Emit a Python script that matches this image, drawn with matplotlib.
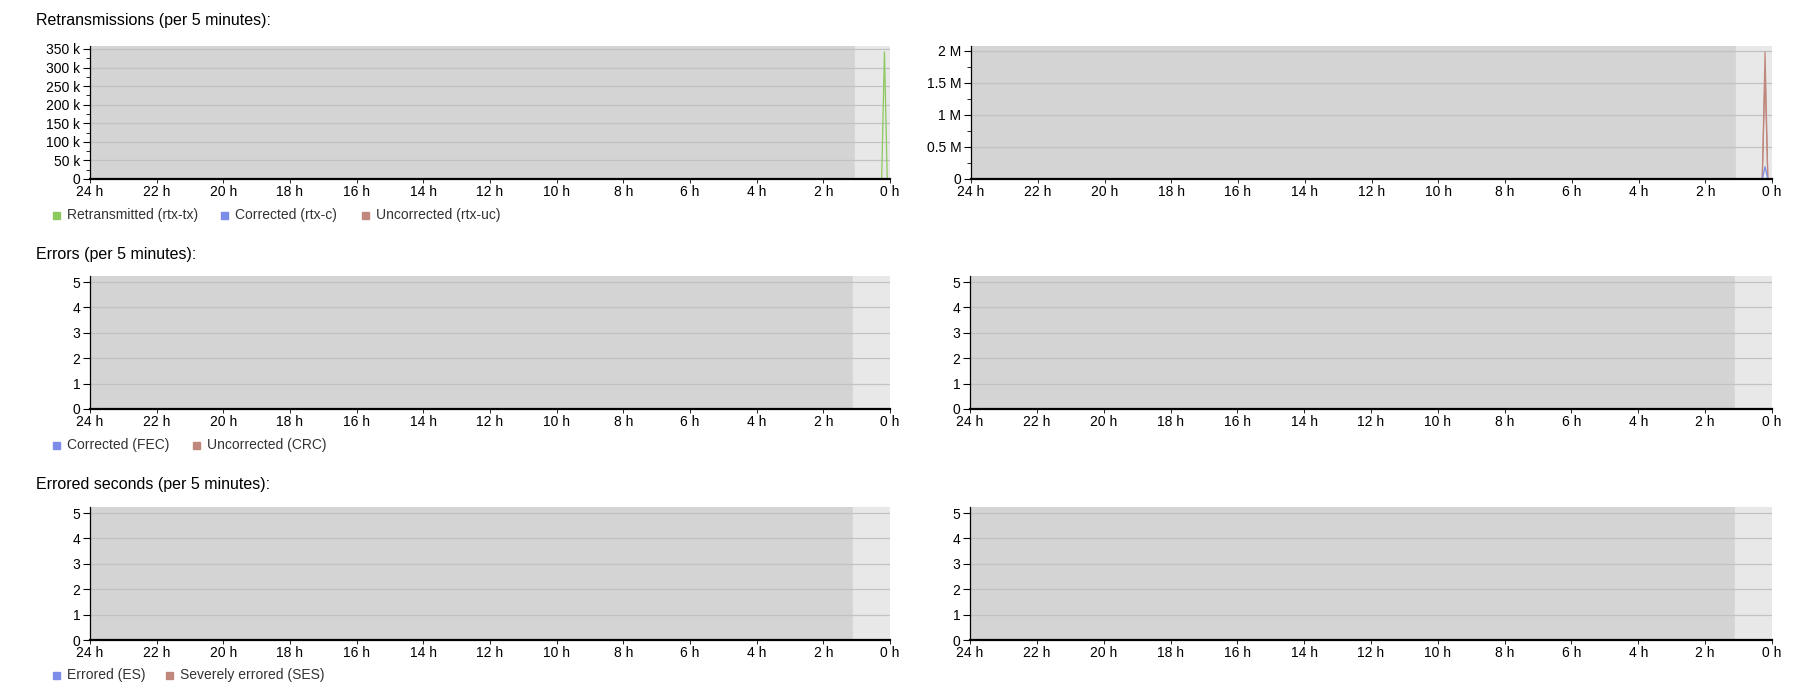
import matplotlib.pyplot as plt
from matplotlib.patches import Rectangle
from matplotlib.ticker import FuncFormatter, MultipleLocator

plt.rcParams['font.family'] = ['Liberation Sans', 'DejaVu Sans']

# hours ago of the last samples (5 minute steps)
hours_ago = [0.3333, 0.25, 0.1667, 0.0833, 0.0]
hours_ago_r = [0.375, 0.2917, 0.2083, 0.125, 0.0417]

# retransmissions, left modem side
rtx_tx_left = [0, 0, 342000, 0, 0]
# retransmissions, right side
rtx_c_right = [0, 0, 190000, 0, 0]
rtx_uc_right = [0, 0, 1980000, 0, 0]
rtx_uc_right_b = [0, 0, 1650000, 0, 0]

# errors / errored seconds are all zero
zeros = [0, 0, 0, 0, 0]

x_ticks = [24, 22, 20, 18, 16, 14, 12, 10, 8, 6, 4, 2, 0]

green = '#8dc95e'
blue = '#7b8de8'
brown = '#c0877d'
dark_bg = '#d4d4d4'
light_bg = '#e8e8e8'
grid_col = '#c2c2c2'

fig = plt.figure(figsize=(18.12, 6.99), dpi=100)
W, H = 1812, 699


def make_ax(left, top, right, bottom, ymax, major, minor, fmt, light_from):
    ax = fig.add_axes([left / W, 1 - bottom / H, (right - left) / W, (bottom - top) / H])
    ax.set_facecolor(dark_bg)
    ax.axvspan(light_from, 0, color=light_bg, zorder=0)
    ax.set_xlim(24, 0)
    ax.set_ylim(0, ymax)
    ax.set_xticks(x_ticks)
    ax.set_xticklabels([f'{h} h' for h in x_ticks])
    ax.yaxis.set_major_locator(MultipleLocator(major))
    if minor:
        ax.yaxis.set_minor_locator(MultipleLocator(minor))
    ax.yaxis.set_major_formatter(FuncFormatter(fmt))
    ax.grid(axis='y', color=grid_col, lw=0.9)
    ax.set_axisbelow(True)
    for s in ['top', 'right']:
        ax.spines[s].set_visible(False)
    ax.spines['left'].set_linewidth(0.9)
    ax.spines['bottom'].set_linewidth(1.6)
    ax.tick_params(axis='both', labelsize=10, colors='black', pad=2)
    ax.tick_params(axis='y', length=5, width=0.8)
    ax.tick_params(axis='y', which='minor', length=3, width=0.6)
    ax.tick_params(axis='x', length=3, width=0.6, pad=1)
    return ax


def fmt_k(v, pos):
    return '0' if v == 0 else f'{v / 1000:g} k'


def fmt_m(v, pos):
    return '0' if v == 0 else f'{v / 1e6:g} M'


def fmt_int(v, pos):
    return f'{v:g}'


def legend(y, items):
    for x, color, label in items:
        fig.patches.append(Rectangle((x / W, 1 - (y + 4) / H), 7 / W, 7 / H,
                                     transform=fig.transFigure, color=color))
        fig.text((x + 14) / W, 1 - y / H, label, fontsize=10, color='#333333', va='center')


# --- Retransmissions ---
fig.text(36 / W, 1 - 21 / H, 'Retransmissions (per 5 minutes):', fontsize=11.5, va='center')
ax = make_ax(90, 46, 890, 179, 358000, 50000, 25000, fmt_k, 1.05)
ax.plot(hours_ago, rtx_tx_left, color=green, lw=0.9)

ax = make_ax(971, 46, 1772, 179, 2073000, 500000, 250000, fmt_m, 1.08)
ax.plot(hours_ago_r, rtx_uc_right, color=brown, lw=0.9)
ax.plot(hours_ago_r, rtx_uc_right_b, color=brown, lw=0.9)
ax.plot(hours_ago_r, rtx_c_right, color=blue, lw=0.9)

legend(215, [(53, green, 'Retransmitted (rtx-tx)'),
             (221, blue, 'Corrected (rtx-c)'),
             (362, brown, 'Uncorrected (rtx-uc)')])

# --- Errors ---
fig.text(36 / W, 1 - 254 / H, 'Errors (per 5 minutes):', fontsize=11.5, va='center')
ax = make_ax(90, 276, 890, 409, 5.24, 1, None, fmt_int, 1.1)
ax.plot(hours_ago, zeros, color=blue, lw=0.9)
ax = make_ax(970, 276, 1772, 409, 5.24, 1, None, fmt_int, 1.1)
ax.plot(hours_ago, zeros, color=blue, lw=0.9)

legend(445, [(53, blue, 'Corrected (FEC)'),
             (193, brown, 'Uncorrected (CRC)')])

# --- Errored seconds ---
fig.text(36 / W, 1 - 484 / H, 'Errored seconds (per 5 minutes):', fontsize=11.5, va='center')
ax = make_ax(90, 507, 890, 640, 5.24, 1, None, fmt_int, 1.1)
ax = make_ax(970, 507, 1772, 640, 5.24, 1, None, fmt_int, 1.1)

legend(675, [(53, blue, 'Errored (ES)'),
             (166, brown, 'Severely errored (SES)')])

fig.savefig('out.png', dpi=100, facecolor='white')
